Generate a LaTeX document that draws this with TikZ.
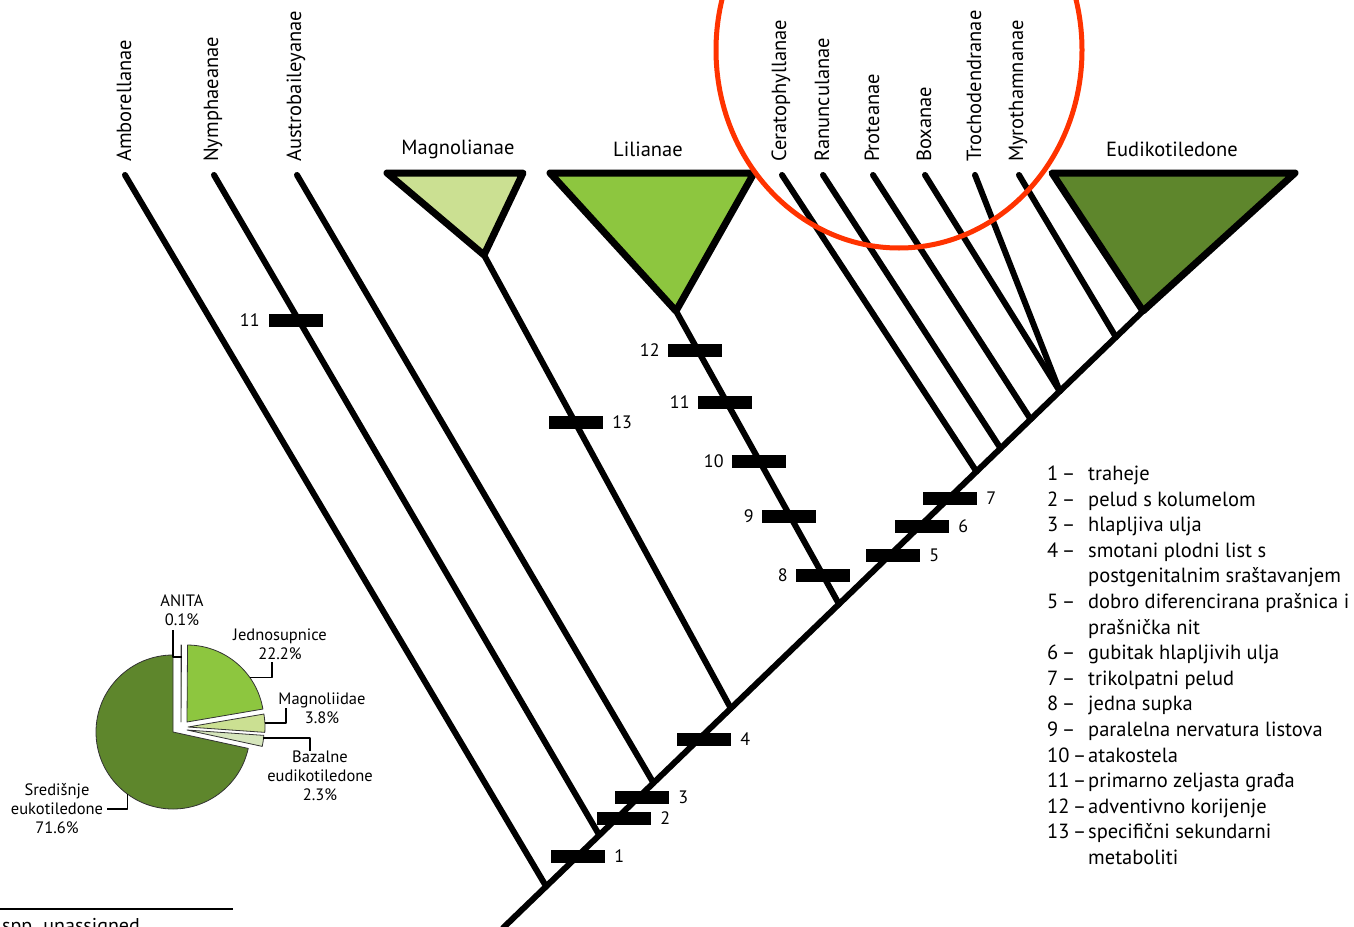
\documentclass[tikz,border=0pt]{standalone}
\usepackage{fontspec}
\setmainfont{PT Sans}
\usetikzlibrary{calc}
\definecolor{magfill}{RGB}{203,224,146}
\definecolor{lilfill}{RGB}{141,198,63}
\definecolor{eudfill}{RGB}{94,134,44}
\definecolor{bazfill}{RGB}{214,230,188}
\definecolor{ringred}{RGB}{255,51,0}
\def\barwidth{54pt}

\begin{document}
\begin{tikzpicture}[x=1pt,y=-1pt,line join=round]
    \tikzstyle{branch}=[line width=6pt,line cap=round]
    \tikzstyle{clade}=[line width=7pt,line join=round]
    \tikzstyle{bar}=[rectangle,fill=black,minimum width=\barwidth,minimum height=13pt,inner sep=0pt]
    \tikzstyle{num}=[font=\fontsize{18}{20}\selectfont,inner sep=0pt]
    \tikzstyle{taxon}=[font=\fontsize{20.5}{22}\selectfont,rotate=90,anchor=west,inner sep=0pt]
    \tikzstyle{group}=[font=\fontsize{20.5}{22}\selectfont,inner sep=0pt]
    \tikzstyle{legend}=[font=\fontsize{20.5}{22}\selectfont,anchor=mid west,inner sep=0pt]
    \tikzstyle{pielabel}=[font=\fontsize{16.5}{19}\selectfont,align=center,inner sep=0pt]
    \tikzstyle{callout}=[line width=1.5pt]
    \tikzstyle{slice}=[draw=black!80,line width=0.8pt]

    \useasboundingbox (0,0) rectangle (1354,926);

    % backbone
    \coordinate (R) at (503,928);
    \coordinate (E) at (1143,311);
    \draw[branch] (R) -- (E);

    % single taxa: name / top x / junction x / label
    \foreach \n/\x/\j/\txt in {Amb/125/548/Amborellanae, Nym/214/601/Nymphaeanae, Aus/297/655/Austrobaileyanae,
        Cer/782/977/Ceratophyllanae, Ran/823/1001/Ranunculanae, Pro/873/1031/Proteanae,
        Box/925/1060/Boxanae, Tro/975/1060/Trochodendranae, Myr/1019/1116/Myrothamnanae}{
        \pgfmathsetmacro\t{(\j-505)/638}
        \coordinate (T-\n) at (\x,175);
        \coordinate (J-\n) at ($(R)!\t!(E)$);
        \draw[branch] (T-\n) -- (J-\n);
        \node[taxon] (N-\n) at ($(T-\n)+(-1,-13)$) {\txt};
        }

    % collapsed clades
    \coordinate (M1) at (387,173);
    \coordinate (M2) at (523,173);
    \coordinate (M3) at (484,255);
    \coordinate (J-Mag) at ($(R)!0.356!(E)$);
    \draw[branch] (M3) -- (J-Mag);
    \filldraw[clade,fill=magfill] (M1) -- (M2) -- (M3) -- cycle;
    \node[group] (N-Mag) at (458,149) {Magnolianae};

    \coordinate (L1) at (550,173);
    \coordinate (L2) at (754,173);
    \coordinate (L3) at (676,311);
    \coordinate (J-Lil) at ($(R)!0.525!(E)$);
    \draw[branch] (L3) -- (J-Lil);
    \filldraw[clade,fill=lilfill] (L1) -- (L2) -- (L3) -- cycle;
    \node[group] (N-Lil) at (648,149) {Lilianae};

    \coordinate (D1) at (1052,173);
    \coordinate (D2) at (1295,173);
    \filldraw[clade,fill=eudfill] (D1) -- (D2) -- (E) -- cycle;
    \node[group] (N-Eud) at (1172,149) {Eudikotiledone};

    % characters
    \foreach \x/\y/\n in {578/856/1, 624/818/2, 642/797/3, 704/739/4, 893/555/5, 922/526/6, 950/498/7}
        \node[bar,label={[num,label distance=9pt]right:\n}] (B-\n) at (\x,\y) {};
    \foreach \x/\y/\n in {823/575/8, 789/516/9, 759/461/10, 725/402/11, 695/350/12}
        \node[bar,label={[num,label distance=8pt]left:\n}] (B-\n) at (\x,\y) {};
    \node[bar,label={[num,label distance=9pt]left:11}] (B-Nym) at (296,320) {};
    \node[bar,label={[num,label distance=9pt]right:13}] (B-13) at (576,422) {};

    % highlight
    \draw[ringred,line width=5pt] (899,50) ellipse [x radius=183, y radius=198];

    % legend
    \foreach \r/\n in {0/1,1/2,2/3,3/4,5/5,7/6,8/7,9/8,10/9,11/10,12/11,13/12,14/13}
        \node[legend] (K-\n) at (1047,{478+25.6*\r}) {\n\,--};
    \foreach \txt [count=\r from 0] in {traheje, pelud s kolumelom, hlapljiva ulja, smotani plodni list s,
        postgenitalnim sraštavanjem, dobro diferencirana prašnica i, prašnička nit, gubitak hlapljivih ulja,
        trikolpatni pelud, jedna supka, paralelna nervatura listova, atakostela, primarno zeljasta građa,
        adventivno korijenje, specifični sekundarni, metaboliti}
        \node[legend] (T-\r) at (1088,{478+25.6*\r}) {\txt};

    % pie
    \begin{scope}[shift={(173,732)},yscale=-1]
        \filldraw[slice,fill=eudfill] (0,0) -- (90:77) arc[start angle=90,end angle=347.7,radius=77] -- cycle;
        \filldraw[slice,fill=bazfill] (14,2) -- ++(347.7:77) arc[start angle=347.7,end angle=356,radius=77] -- cycle;
        \filldraw[slice,fill=magfill] (15,5) -- ++(356:77) arc[start angle=356,end angle=369.7,radius=77] -- cycle;
        \filldraw[slice,fill=lilfill] (14,10) -- ++(9.7:77) arc[start angle=9.7,end angle=89.6,radius=77] -- cycle;
        \filldraw[slice,fill=lilfill] (8,10) -- ++(89.6:77) arc[start angle=89.6,end angle=90,radius=77] -- cycle;
        \coordinate (S-ani) at (9,75);
        \coordinate (S-jed) at ($(14,10)+(35.5:77)$);
        \coordinate (S-mag) at ($(15,5)+(3:77)$);
        \coordinate (S-baz) at ($(14,2)+(354:76)$);
        \coordinate (S-sre) at (233.6:77);
    \end{scope}

    \node[pielabel] (P-ani) at (182,610) {ANITA\\0.1\%};
    \node[pielabel] (P-jed) at (280,644) {Jednosupnice\\22.2\%};
    \node[pielabel] (P-mag) at (322,708) {Magnoliidae\\3.8\%};
    \node[pielabel] (P-baz) at (320,776) {Bazalne\\eudikotiledone\\2.3\%};
    \node[pielabel] (P-sre) at (57,809) {Središnje\\eukotiledone\\71.6\%};

    \coordinate (C-ani) at (173,630);
    \coordinate (C-jed) at (272,662);
    \coordinate (C-mag) at (286,708);
    \coordinate (C-baz) at (310,751);
    \coordinate (C-sre) at (107,809);
    \draw[callout] (S-ani) -| (C-ani);
    \draw[callout] (S-jed) -| (C-jed);
    \draw[callout] (S-mag) -| (C-mag);
    \draw[callout] (S-baz) -| (C-baz);
    \draw[callout] (C-sre) -| (S-sre);

    % footnote rule
    \coordinate (F1) at (0,909);
    \coordinate (F2) at (233,909);
    \draw[line width=1.2pt] (F1) -- (F2);
    \node[anchor=north west,inner sep=0pt,font=\fontsize{20}{22}\selectfont] (F-txt) at (2,918) {spp. unassigned};
\end{tikzpicture}
\end{document}
